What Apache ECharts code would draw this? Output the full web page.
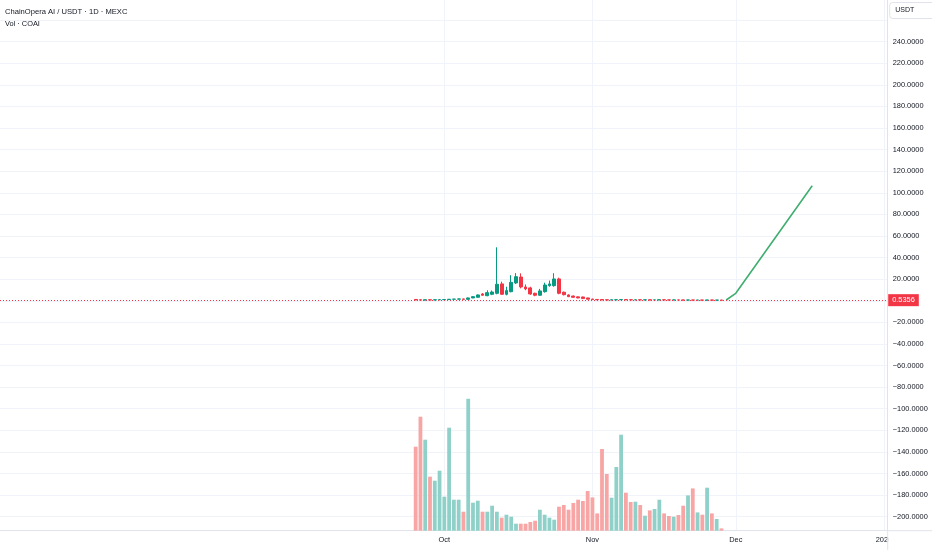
<!DOCTYPE html>
<html>
<head>
<meta charset="utf-8">
<script src="https://cdn.jsdelivr.net/npm/echarts@6/dist/echarts.min.js"></script>
<style>
html,body{margin:0;padding:0;background:#ffffff;}
#chart{width:932px;height:550px;}
</style>
</head>
<body>
<div id="chart"></div>
<script>
// ---------------- DATA ----------------
const candleDates = [
  '2025-09-25','2025-09-26','2025-09-27','2025-09-28','2025-09-29','2025-09-30',
  '2025-10-01','2025-10-02','2025-10-03','2025-10-04','2025-10-05','2025-10-06',
  '2025-10-07','2025-10-08','2025-10-09','2025-10-10','2025-10-11','2025-10-12',
  '2025-10-13','2025-10-14','2025-10-15','2025-10-16','2025-10-17','2025-10-18',
  '2025-10-19','2025-10-20','2025-10-21','2025-10-22','2025-10-23','2025-10-24',
  '2025-10-25','2025-10-26','2025-10-27','2025-10-28','2025-10-29','2025-10-30',
  '2025-10-31','2025-11-01','2025-11-02','2025-11-03','2025-11-04','2025-11-05',
  '2025-11-06','2025-11-07','2025-11-08','2025-11-09','2025-11-10','2025-11-11',
  '2025-11-12','2025-11-13','2025-11-14','2025-11-15','2025-11-16','2025-11-17',
  '2025-11-18','2025-11-19','2025-11-20','2025-11-21','2025-11-22','2025-11-23',
  '2025-11-24','2025-11-25','2025-11-26','2025-11-27','2025-11-28'
];
const opens = [
  1.2,0.9,0.6,0.9,0.7,0.9, 1.0,1.1,1.4,1.5,1.7,1.3,
  2.6,3.2,6.3,4.7,6.0,6.9, 15.6,6.0,8.4,16.5,22.0,12.8,
  11.9,6.9,5.1,8.4,14.0,14.0, 20.2,7.9,5.4,4.4,3.6,3.5,
  2.6,1.6,1.2,1.1,0.9,0.7, 0.85,0.95,1.1,0.95,0.85,0.9,
  0.8,0.85,0.75,0.8,0.9,0.8, 0.72,0.76,0.7,0.62,0.7,0.6,
  0.64,0.58,0.66,0.58,0.6
];
const closes = [
  0.8,0.6,0.9,0.7,0.9,1.0, 1.1,1.4,1.5,1.7,1.3,2.6,
  3.8,5.4,5.1,7.5,8.1,15.3, 6.0,9.4,17.1,22.3,12.8,10.9,
  6.3,5.1,9.1,14.6,15.6,20.2, 6.9,5.6,3.8,3.2,2.6,2.0,
  1.4,1.1,0.9,0.8,0.7,0.85, 0.95,1.1,0.95,0.85,0.9,0.8,
  0.85,0.75,0.8,0.9,0.8,0.72, 0.76,0.7,0.62,0.7,0.6,0.64,
  0.58,0.66,0.58,0.6,0.5356
];
const lows = [
  0.6,0.5,0.5,0.6,0.6,0.8, 0.9,1.0,1.3,1.4,1.2,1.1,
  2.4,2.9,4.6,4.2,5.2,6.0, 5.5,5.0,7.8,15.5,11.5,9.8,
  5.5,4.2,4.6,7.5,13.0,13.0, 6.0,5.0,3.4,2.9,2.3,1.8,
  1.2,1.0,0.8,0.7,0.6,0.65, 0.8,0.9,0.9,0.8,0.8,0.75,
  0.78,0.7,0.72,0.78,0.76,0.68, 0.7,0.66,0.58,0.6,0.56,0.58,
  0.55,0.56,0.55,0.56,0.52
];
const highs = [
  1.5,1.1,1.0,1.0,1.0,1.2, 1.3,1.6,1.7,1.9,1.8,3.0,
  4.2,5.8,7.2,9.7,9.5,49.5, 17.7,13.0,23.7,25.6,25.4,15.1,
  13.0,7.5,11.0,16.7,18.7,25.5, 21.4,8.5,6.0,4.8,4.0,3.8,
  2.8,1.8,1.3,1.3,1.0,0.95, 1.05,1.25,1.15,1.0,0.95,0.95,
  0.9,0.88,0.84,0.95,0.92,0.82, 0.8,0.78,0.72,0.75,0.72,0.67,
  0.66,0.7,0.68,0.62,0.61
];
// volume (relative units)
const volumes = [
  84,114,91,54,50,60, 34,103,31,31,19,132,
  28,30,19,19,25,19, 13,16,14,7,7,7,
  8.7,10,21,16,13,11, 24,25.7,21,27.7,31,29.7,
  39.7,33.3,17.3,81.7,56.7,33, 63.7,96,38,28.7,29,25.7,
  15,20.3,21.7,31,17.3,14.7, 14,15.7,25,35.3,42.3,18.3,
  16,43,17.3,11.7,2.3
];
// green projection line
const lineDates = ['2025-11-29','2025-12-01','2025-12-17'];
const lineValues = [0.7, 6.9, 106.6];

// axis ticks
const priceGridTicks = [-200,-180,-160,-140,-120,-100,-80,-60,-40,-20,0,20,40,60,80,100,120,140,160,180,200,220,240,260];
const priceLabelTicks = [-200,-180,-160,-140,-120,-100,-80,-60,-40,-20,0,20,40,60,80,100,120,140,160,180,200,220,240];
const monthTickDates = ['2025-10-01','2025-11-01','2025-12-01','2026-01-01'];
const monthNames = ['Jan','Feb','Mar','Apr','May','Jun','Jul','Aug','Sep','Oct','Nov','Dec'];

const titleText = 'ChainOpera AI / USDT · 1D · MEXC';
const volText = 'Vol · COAI';
const currencyText = 'USDT';

// ---------------- LAYOUT / STYLE ----------------
const W = 932, H = 550;
const GRID_RIGHT = 44.3;
const GRID_BOTTOM = 19.3;
const VOL_GRID_HEIGHT = 200;
const FONT = "'Liberation Sans', Arial, sans-serif";
const TXT = '#131722';
const UP = '#089981', DOWN = '#f23645';
const UP_VOL = '#8fd1c8', DOWN_VOL = '#f7a6a5';
const GRIDC = '#f0f3fa', BORDERC = '#e0e3eb';
const AXIS_FS = 7.4;

function ts(s) {
  const p = s.split('-').map(Number);
  return Date.UTC(p[0], p[1] - 1, p[2]);
}
const DAY = 86400000;
// visible range: Oct 1 - 93 days .. Oct 1 + 92.8 days
const xMin = ts('2025-10-01') - 93.0 * DAY;
const xMax = ts('2025-10-01') + 92.8 * DAY;

const candleData = candleDates.map((d, i) => [ts(d), opens[i], closes[i], lows[i], highs[i]]);
const volData = candleDates.map((d, i) => ({
  value: [ts(d), volumes[i]],
  itemStyle: { color: closes[i] >= opens[i] ? UP_VOL : DOWN_VOL }
}));
const lineData = lineDates.map((d, i) => [ts(d), lineValues[i]]);
const monthTicks = monthTickDates.map(ts);
const lastPrice = closes[closes.length - 1];

function fmtPrice(v) {
  return (v < 0 ? '\u2212' : '') + Math.abs(v).toFixed(4);
}
function fmtMonth(v) {
  const d = new Date(v);
  return d.getUTCMonth() === 0 ? String(d.getUTCFullYear()) : monthNames[d.getUTCMonth()];
}

const chart = echarts.init(document.getElementById('chart'), null, { renderer: 'canvas' });
const option = {
  animation: false,
  backgroundColor: '#ffffff',
  textStyle: { fontFamily: FONT },
  title: [
    { text: titleText, left: 5, top: 8, padding: 0,
      textStyle: { fontFamily: FONT, fontSize: 7.6, fontWeight: 'normal', color: TXT } },
    { text: volText, left: 5, top: 20.5, padding: 0,
      textStyle: { fontFamily: FONT, fontSize: 7.4, fontWeight: 'normal', color: TXT } },
    { text: currencyText, left: W - GRID_RIGHT + 1.5, top: 2, padding: [5, 24, 5, 6],
      borderColor: BORDERC, borderWidth: 1, borderRadius: 3, backgroundColor: '#ffffff',
      textStyle: { fontFamily: FONT, fontSize: 7, fontWeight: 'normal', color: TXT } }
  ],
  grid: [
    { left: 0, right: GRID_RIGHT, top: 0, bottom: GRID_BOTTOM, containLabel: false, outerBoundsMode: 'none' },
    { left: 0, right: GRID_RIGHT, height: VOL_GRID_HEIGHT, bottom: GRID_BOTTOM, containLabel: false, outerBoundsMode: 'none' }
  ],
  xAxis: [
    {
      type: 'value', gridIndex: 0, min: xMin, max: xMax, scale: true,
      axisLine: { show: true, onZero: false, lineStyle: { color: BORDERC, width: 1 } },
      axisTick: { show: false, customValues: monthTicks },
      axisLabel: {
        customValues: monthTicks, margin: 5.5, fontSize: AXIS_FS, color: TXT, fontFamily: FONT,
        formatter: fmtMonth, hideOverlap: false
      },
      splitLine: { show: true, lineStyle: { color: GRIDC, width: 1 } }
    },
    {
      type: 'value', gridIndex: 1, min: xMin, max: xMax, scale: true, show: false,
      splitLine: { show: false }
    }
  ],
  yAxis: [
    {
      type: 'value', gridIndex: 0, position: 'right', min: -213.0, max: 278.6, scale: true,
      axisLine: { show: true, lineStyle: { color: BORDERC, width: 1 } },
      axisTick: { show: false, customValues: priceGridTicks },
      axisLabel: {
        customValues: priceLabelTicks, margin: 5, fontSize: AXIS_FS, color: TXT, fontFamily: FONT,
        formatter: fmtPrice
      },
      splitLine: { show: true, lineStyle: { color: GRIDC, width: 1 } }
    },
    {
      type: 'value', gridIndex: 1, min: 0, max: VOL_GRID_HEIGHT, show: false,
      splitLine: { show: false }
    }
  ],
  series: [
    {
      name: 'Vol', type: 'bar', xAxisIndex: 1, yAxisIndex: 1,
      data: volData, barWidth: 3.8, silent: true
    },
    {
      name: 'COAI', type: 'candlestick', xAxisIndex: 0, yAxisIndex: 0,
      data: candleData, barWidth: 3.2, silent: true,
      itemStyle: { color: UP, color0: DOWN, borderColor: UP, borderColor0: DOWN, borderWidth: 1 },
      markLine: {
        silent: true, symbol: ['none', 'none'], animation: false,
        lineStyle: { type: [1, 2], color: DOWN, width: 1 },
        label: {
          show: true, position: 'end', distance: 0.5,
          formatter: function () { return lastPrice.toFixed(4); },
          backgroundColor: DOWN, color: '#ffffff', fontFamily: FONT, fontSize: AXIS_FS,
          padding: [2, 4, 2, 4], lineHeight: 8
        },
        data: [{ yAxis: lastPrice }]
      }
    },
    {
      name: 'Line', type: 'line', xAxisIndex: 0, yAxisIndex: 0,
      data: lineData, showSymbol: false, silent: true,
      lineStyle: { color: '#3fae6f', width: 1.6 }
    }
  ],
  graphic: [
    { type: 'rect', z: 100, shape: { x: W - GRID_RIGHT + 0.5, y: H - GRID_BOTTOM + 0.5, width: GRID_RIGHT, height: GRID_BOTTOM },
      style: { fill: '#ffffff' } },
    { type: 'line', z: 101, shape: { x1: W - GRID_RIGHT, y1: H - GRID_BOTTOM, x2: W, y2: H - GRID_BOTTOM },
      style: { stroke: BORDERC, lineWidth: 1 } },
    { type: 'line', z: 101, shape: { x1: W - GRID_RIGHT, y1: H - GRID_BOTTOM, x2: W - GRID_RIGHT, y2: H },
      style: { stroke: BORDERC, lineWidth: 1 } }
  ]
};
chart.setOption(option);
</script>
</body>
</html>
